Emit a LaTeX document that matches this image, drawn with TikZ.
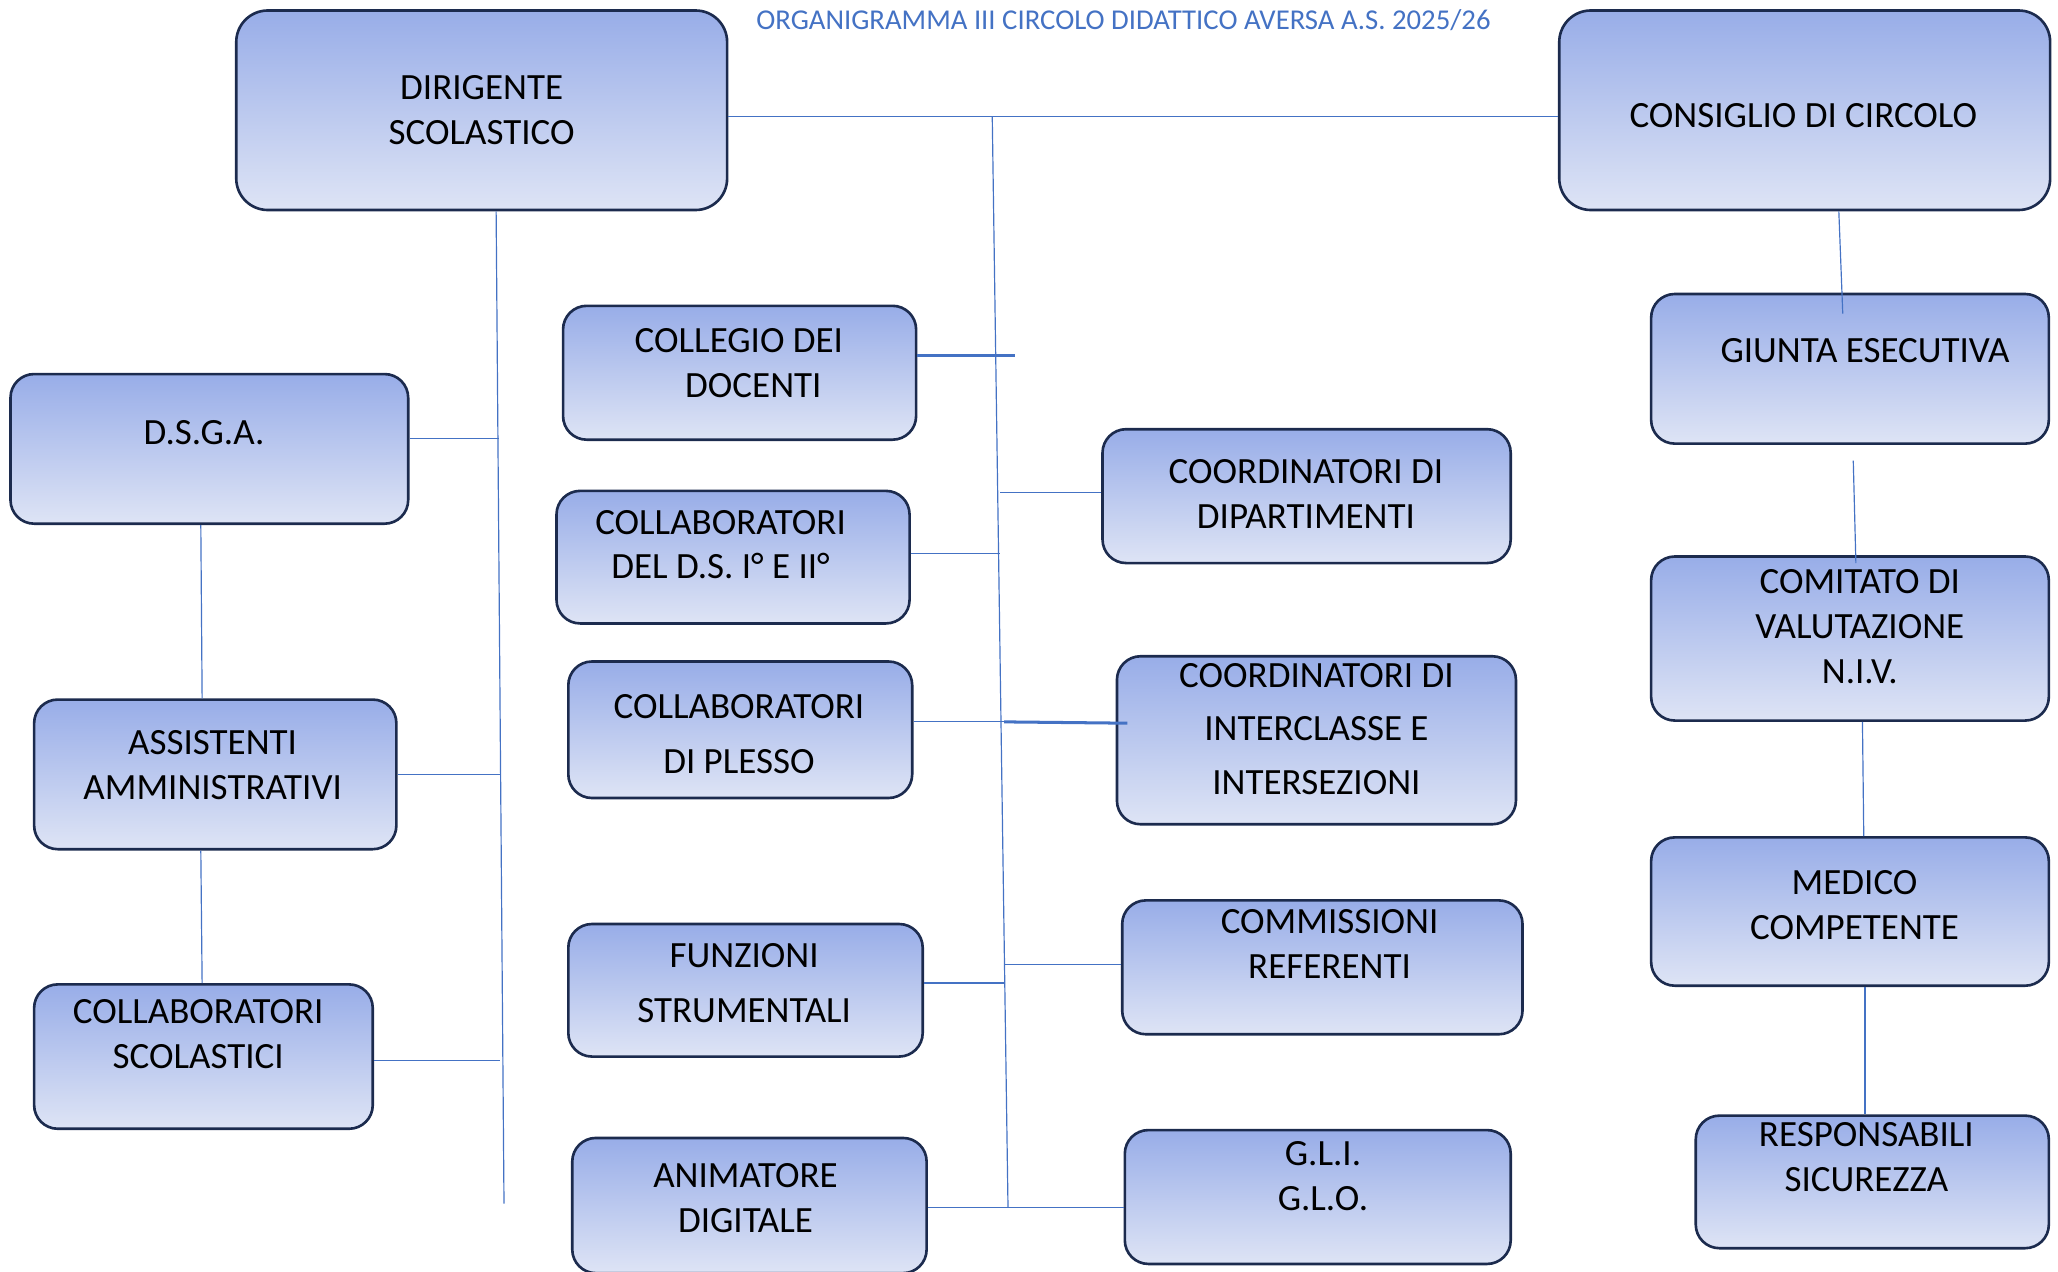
\documentclass[tikz,border=0pt]{standalone}
\usepackage{fontspec}
\setmainfont{Carlito}
\usepackage{tikz}
\usetikzlibrary{calc}
\definecolor{haut}{HTML}{98ADE8}
\definecolor{bas}{HTML}{DEE4F5}
\definecolor{bord}{HTML}{1C2B4E}
\definecolor{filo}{HTML}{4472C4}

\begin{document}
\begin{tikzpicture}[x=1pt,y=-1pt,
        boite/.style={draw=bord,line width=2pt,top color=haut,bottom color=bas},
        lien/.style={draw=filo,line width=0.9pt},
        gros/.style={draw=filo,line width=2.3pt},
        txt/.style={align=center,font=\fontsize{28.2}{34}\selectfont,inner sep=0pt}]
            \useasboundingbox (0,0) rectangle (1568,968.4);
            % boites
            \foreach \n/\xa/\ya/\xb/\yb/\r in {dir/180/8/554/160/24, cons/1188/8/1562/160/24,
                collegio/429/233/698/335/18, dsga/8/285/311/399/18, collds/424/374/693/475/18,
                coorddip/840/327/1151/429/18, assist/26/533/302/647/18, plesso/433/504/695/608/18,
                inter/851/500/1155/628/18, funz/433/704/703/805/18, comm/855/686/1160/788/18,
                collscol/26/750/284/860/18, anim/436/867/706/970/18, gli/857/861/1151/963/18,
                giunta/1258/224/1561/338/18, comitato/1258/424/1561/549/18,
                medico/1258/638/1561/751/18, resp/1292/850/1561/951/18} {
                \node[boite,rounded corners=\r pt,minimum width={(\xb-\xa)*1pt},
                    minimum height={(\yb-\ya)*1pt}] (\n) at ({(\xa+\xb)/2},{(\ya+\yb)/2}) {};
            }
            % textes
            \foreach \n/\x/\y/\t in {dirT/367/84/{DIRIGENTE\\SCOLASTICO},
                consT/1374/88/{CONSIGLIO DI CIRCOLO},
                collegioT/563/276.5/{COLLEGIO DEI\\\hspace*{22pt}DOCENTI},
                dsgaT/155.5/330/{D.S.G.A.},
                colldsT/549/415/{COLLABORATORI\\DEL D.S. I° E II°},
                coorddipT/995/376.5/{COORDINATORI DI\\DIPARTIMENTI},
                assistT/162/583/{ASSISTENTI\\AMMINISTRATIVI},
                plessoT/563/559/{COLLABORATORI\\[8pt]DI PLESSO},
                interT/1003/555.5/{COORDINATORI DI\\[7pt]INTERCLASSE E\\[7pt]INTERSEZIONI},
                funzT/567/749/{FUNZIONI\\[8pt]STRUMENTALI},
                commT/1013/719/{COMMISSIONI\\REFERENTI},
                collscolT/151/788/{COLLABORATORI\\SCOLASTICI},
                animT/568/913/{ANIMATORE\\DIGITALE},
                gliT/1008/896/{G.L.I.\\G.L.O.},
                giuntaT/1421/267/{GIUNTA ESECUTIVA},
                comitatoT/1417/477.5/{COMITATO DI\\VALUTAZIONE\\N.I.V.},
                medicoT/1413/689.5/{MEDICO\\COMPETENTE},
                respT/1422/881.5/{RESPONSABILI\\SICUREZZA}} {
                \node[txt] (\n) at (\x,\y) {\t};
            }
            \node[text=filo,font=\fontsize{21.9}{26}\selectfont] (titre) at (856,15)
                {ORGANIGRAMMA III CIRCOLO DIDATTICO AVERSA A.S. 2025/26};
            % liens
            \coordinate (dTop) at (756,89);
            \coordinate (dBot) at (768,920);
            \coordinate (sBot) at (384,917);
            \foreach \n/\x/\y in {bDsga/380/334, bAssist/381/590, bCollscol/381/808,
                bCollegio/773/271, bCollds/762/422, bCoorddip/762/375, bPlesso/765/550,
                bFunz/766/749, bComm/766/735, bAnim/768/920} {
                \coordinate (\n) at (\x,\y);
            }
            \draw[lien] ($(dir.east)+(0,5)$) -- ($(cons.west)+(0,5)$);
            \draw[lien] (dTop) -- (dBot);
            \draw[lien] ($(dir.south)+(11,0)$) -- (sBot);
            \draw[lien] (dsga.east |- bDsga) -- (bDsga);
            \draw[lien] (assist.east |- bAssist) -- (bAssist);
            \draw[lien] (collscol.east |- bCollscol) -- (bCollscol);
            \draw[gros] (collegio.east |- bCollegio) -- (bCollegio);
            \draw[lien] (collds.east |- bCollds) -- (bCollds);
            \draw[lien] (bCoorddip) -- (coorddip.west |- bCoorddip);
            \draw[lien] (plesso.east |- bPlesso) -- (bPlesso);
            \draw[gros] (bPlesso) -- ($(inter.west |- bPlesso)+(9,1)$);
            \draw[lien] (funz.east |- bFunz) -- (bFunz);
            \draw[lien] (bComm) -- (comm.west |- bComm);
            \draw[lien] (anim.east |- bAnim) -- (gli.west |- bAnim);
            \draw[lien] ($(cons.south)+(26,0)$) -- ($(giunta.north)+(-5.5,16)$);
            \draw[lien] ($(giunta.south)+(2.5,12)$) -- ($(comitato.north)+(4.5,6)$);
            \draw[lien] ($(comitato.south)+(9.5,0)$) -- ($(medico.north)+(10.5,0)$);
            \draw[lien] ($(medico.south)+(11.5,0)$) -- ($(resp.north)+(-5.5,0)$);
            \draw[lien] ($(dsga.south)+(-6.5,0)$) -- ($(assist.north)+(-10,0)$);
            \draw[lien] ($(assist.south)+(-11,0)$) -- ($(collscol.north)+(-1,0)$);
        \end{tikzpicture}
\end{document}
